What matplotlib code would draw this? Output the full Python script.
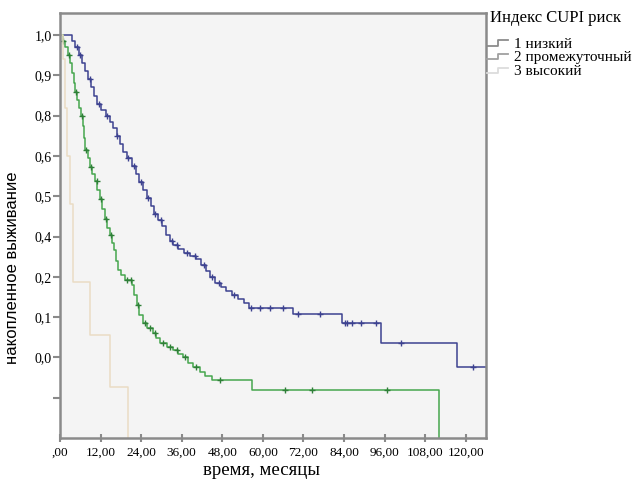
import numpy as np
import matplotlib
matplotlib.use('Agg')
import matplotlib.pyplot as plt
from matplotlib.lines import Line2D
from matplotlib.legend_handler import HandlerBase

# Kaplan-Meier steps (months, cumulative survival)
low_t = [0, 3.6, 4.5, 5.5, 6.5, 7.5, 8.3, 9.2, 10.0, 10.8, 12.0, 13.5, 14.7, 15.8,
         16.8, 17.8, 18.6, 19.8, 21.2, 22.5, 23.5, 24.6, 25.8, 26.8, 27.8, 29.0,
         30.3, 31.3, 32.4, 33.5, 35.0, 36.8, 38.5, 40.2, 41.8, 43.2, 44.5, 45.8,
         47.5, 49.0, 51.0, 52.5, 54.5, 56.0, 69.0, 83.5, 94.9, 117.3, 126.5]
low_s = [1.0, 0.985, 0.97, 0.95, 0.93, 0.91, 0.89, 0.87, 0.85, 0.83, 0.815, 0.80,
         0.785, 0.77, 0.75, 0.73, 0.71, 0.695, 0.675, 0.655, 0.635, 0.615, 0.595,
         0.575, 0.555, 0.54, 0.525, 0.505, 0.49, 0.48, 0.47, 0.46, 0.452, 0.445,
         0.43, 0.415, 0.40, 0.385, 0.375, 0.365, 0.355, 0.345, 0.335, 0.322,
         0.308, 0.285, 0.237, 0.177, 0.177]
low_cens = [5.0, 6.0, 9.0, 11.5, 14.0, 17.0, 20.0, 22.0, 24.0, 26.0, 28.0, 30.0,
            33.0, 34.5, 37.5, 40.0, 42.5, 45.0, 47.0, 51.5, 56.6, 59.1, 62.0, 65.9,
            70.3, 76.8, 84.3, 85.0, 86.5, 89.0, 93.5, 101.0, 122.2]

mid_t = [0, 0.8, 1.6, 2.4, 3.0, 3.6, 4.1, 4.5, 5.0, 5.6, 6.2, 6.7, 7.1, 7.5, 8.2,
         8.9, 9.6, 10.3, 11.0, 11.7, 12.4, 13.2, 14.0, 14.8, 15.5, 16.1, 16.6,
         17.1, 18.0, 19.1, 21.4, 22.0, 22.7, 23.5, 24.4, 25.8, 27.4, 28.5, 29.6,
         31.5, 33.3, 35.0, 36.3, 38.0, 39.2, 41.3, 43.0, 44.9, 56.7, 112.2]
mid_s = [1.0, 0.985, 0.97, 0.95, 0.93, 0.905, 0.88, 0.86, 0.84, 0.82, 0.80, 0.775,
         0.745, 0.715, 0.695, 0.672, 0.655, 0.638, 0.615, 0.592, 0.568, 0.543,
         0.522, 0.503, 0.485, 0.466, 0.44, 0.417, 0.405, 0.392, 0.38, 0.355, 0.33,
         0.305, 0.285, 0.272, 0.26, 0.248, 0.236, 0.227, 0.218, 0.208, 0.20,
         0.187, 0.176, 0.164, 0.154, 0.144, 0.119, 0.0]
mid_cens = [1.0, 2.8, 4.8, 6.4, 7.8, 9.2, 10.8, 12.2, 13.6, 15.0, 19.8, 21.0, 23.0,
            25.2, 26.5, 28.0, 30.5, 32.5, 34.5, 37.0, 40.2, 47.2, 66.5, 74.4, 96.8]

high_t = [0, 0.8, 1.5, 2.2, 2.9, 3.8, 8.8, 14.7, 20.0]
high_s = [1.0, 0.94, 0.82, 0.70, 0.58, 0.388, 0.256, 0.127, 0.0]

groups = ['1 низкий', '2 промежуточный', '3 высокий']
x_ticks = [0, 12, 24, 36, 48, 60, 72, 84, 96, 108, 120]
x_labels = [',00', '12,00', '24,00', '36,00', '48,00', '60,00', '72,00', '84,00',
            '96,00', '108,00', '120,00']
y_ticks = [1.0, 0.9, 0.8, 0.7, 0.6, 0.5, 0.4, 0.3, 0.2, 0.1]
y_labels = ['1,0', '0,9', '0,8', '0,6', '0,5', '0,4', '0,2', '0,1', '0,0', '']

colors = ['#3d4290', '#46a64e', '#eadcc4']
legend_colors = ['#8c8c8c', '#a0a0a0', '#dcdcdc']
serif = 'Liberation Serif'


def step_at(t, s, c):
    t = np.asarray(t)
    s = np.asarray(s)
    idx = np.searchsorted(t, c, side='right') - 1
    return s[idx]


class StepHandler(HandlerBase):
    def create_artists(self, legend, orig_handle, xdescent, ydescent, width,
                       height, fontsize, trans):
        xs = np.array([0, 0.5, 0.5, 1.0]) * width - xdescent
        ys = np.array([0.2, 0.2, 0.7, 0.7]) * height - ydescent
        ln = Line2D(xs, ys, color=orig_handle.get_color(), lw=1.3,
                    transform=trans)
        return [ln]


fig = plt.figure(figsize=(6.33, 4.83), dpi=100)
ax = fig.add_axes([0.0948, 0.0932, 0.673, 0.88])
ax.set_facecolor('#f4f4f4')

ax.step(low_t, low_s, where='post', color=colors[0], lw=1.1)
ax.plot(low_cens, step_at(low_t, low_s, low_cens), '+', color=colors[0],
        ms=5, mew=1.0)
ax.step(mid_t, mid_s, where='post', color=colors[1], lw=1.1)
ax.plot(mid_cens, step_at(mid_t, mid_s, mid_cens), '+', color='#2f7f38',
        ms=5, mew=1.0)
ax.step(high_t, high_s, where='post', color=colors[2], lw=1.1)

ax.set_xlim(0, 126)
ax.set_ylim(0, 1.055)
ax.set_xticks(x_ticks)
ax.set_xticklabels(x_labels, family=serif, fontsize=9.5)
ax.set_yticks(y_ticks)
ax.set_yticklabels(y_labels, family=serif, fontsize=10)
ax.tick_params(axis='x', direction='inout', length=6, width=1.5,
               color='#8a8a8a', pad=3)
ax.tick_params(axis='y', direction='out', length=5, width=1.5,
               color='#8a8a8a', pad=1)
for sp in ax.spines.values():
    sp.set_color('#8a8a8a')
    sp.set_linewidth(1.8)

ax.set_xlabel('время, месяцы', family=serif, fontsize=13.5)
ax.xaxis.set_label_coords(0.472, -0.056)
ax.set_ylabel('накопленное выживание', family='Liberation Sans', fontsize=12)
ax.yaxis.set_label_coords(-0.094, 0.40)

fig.text(490 / 633, 1 - 18 / 483, 'Индекс CUPI риск', family=serif,
         fontsize=12, va='center', ha='left')
handles = [Line2D([], [], color=c) for c in legend_colors]
leg = fig.legend(handles, groups, loc='upper left',
                 bbox_to_anchor=(487 / 633, 1 - 37 / 483), frameon=False,
                 prop={'family': serif, 'size': 11},
                 handler_map={Line2D: StepHandler()},
                 handlelength=1.4, handletextpad=0.35, labelspacing=0.0,
                 borderpad=0, borderaxespad=0)

fig.savefig('out.png', dpi=100, facecolor='white')
